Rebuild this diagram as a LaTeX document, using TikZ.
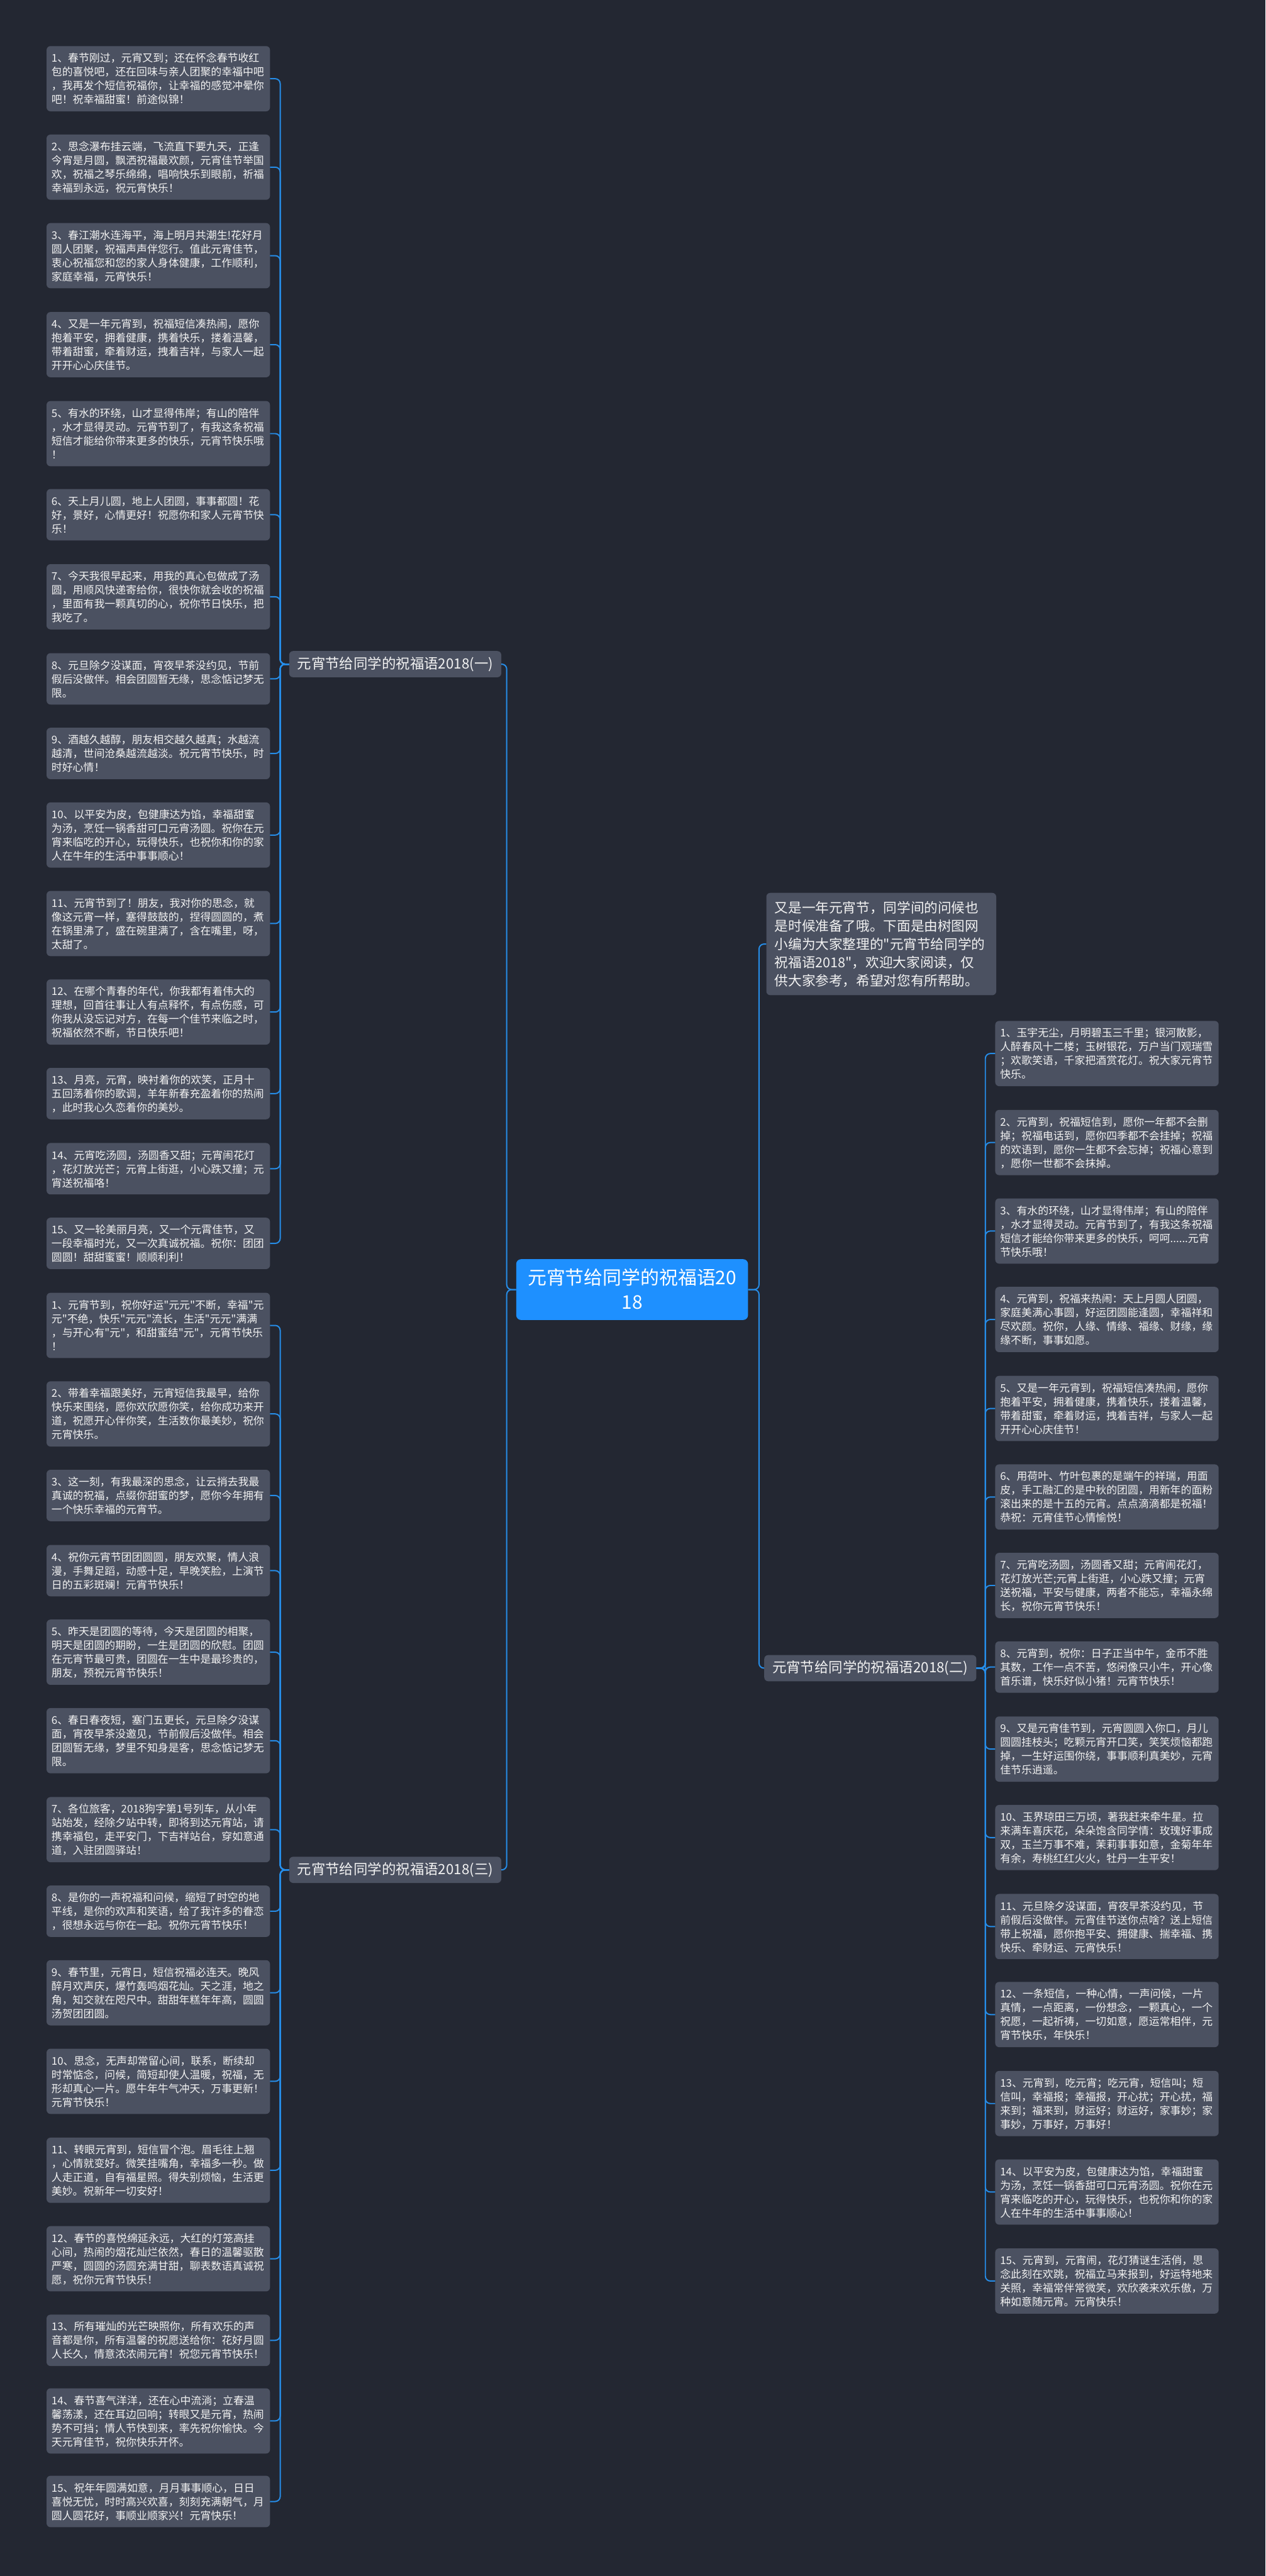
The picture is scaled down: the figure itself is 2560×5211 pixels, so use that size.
\documentclass[tikz,border=0pt]{standalone}
\usepackage{fontspec}
\newfontfamily\cjkfont{Noto Sans CJK SC}
\usepackage{tikz}
\definecolor{bgc}{RGB}{35,39,50}
\definecolor{boxc}{RGB}{75,81,97}
\definecolor{linkc}{RGB}{38,141,232}
\definecolor{rootc}{RGB}{30,144,255}
\definecolor{txtc}{RGB}{242,242,242}
\newcommand{\lnst}{\rule[-5.5pt]{0pt}{28pt}}
\newcommand{\inst}{\rule[-7.8pt]{0pt}{37pt}}
\newcommand{\rtst}{\rule[-10pt]{0pt}{50pt}}

\begin{document}
\begin{tikzpicture}[x=1pt,y=-1pt,
    leaf/.style={fill=boxc, rounded corners=8pt, text=txtc, text width=432pt, align=left,
      inner xsep=10pt, inner ysep=10pt, anchor=north west, font=\cjkfont\fontsize{21.5}{28}\selectfont},
    branch/.style={fill=boxc, rounded corners=8pt, text=txtc, minimum width=429pt, minimum height=53pt,
      inner sep=0pt, font=\cjkfont\fontsize{28.5}{34}\selectfont},
    link/.style={draw=linkc, line width=2.5pt, rounded corners=10pt}]
  \fill[bgc] (0,0) rectangle (2560,5211);
  \useasboundingbox (0,0) rectangle (2560,5211);

  \node[fill=rootc, rounded corners=10pt, text=white, text width=429pt, align=center, inner xsep=20pt,
    inner ysep=11.5pt, anchor=north west, font=\cjkfont\fontsize{38}{50}\selectfont] (root) at (1044,2547)
    {\rtst 元宵节给同学的祝福语20\\18\rtst};
  \node[leaf, text width=431pt, inner xsep=17pt, inner ysep=11pt, font=\cjkfont\fontsize{27.5}{37}\selectfont] (intro) at (1550,1806)
    {\inst 又是一年元宵节，同学间的问候也\\是时候准备了哦。下面是由树图网\\小编为大家整理的"元宵节给同学的\\祝福语2018"，欢迎大家阅读，仅\\供大家参考，希望对您有所帮助。\inst};
  \node[branch] (b1) at (799.5,1343.5) {元宵节给同学的祝福语2018(一)};
  \node[branch] (b2) at (1760.5,3374.5) {元宵节给同学的祝福语2018(二)};
  \node[branch] (b3) at (799.5,3782.5) {元宵节给同学的祝福语2018(三)};

  \draw[link] (root.west) -- ++(-19,0) |- (b1.east);
  \draw[link] (root.west) -- ++(-19,0) |- (b3.east);
  \draw[link] (root.east) -- ++(22,0) |- (intro.west);
  \draw[link] (root.east) -- ++(22,0) |- (b2.west);

  \foreach \i/\y/\txt in {
    1/93/{1、春节刚过，元宵又到；还在怀念春节收红\\包的喜悦吧，还在回味与亲人团聚的幸福中吧\\，我再发个短信祝福你，让幸福的感觉冲晕你\\吧！祝幸福甜蜜！前途似锦！},
    2/272/{2、思念瀑布挂云端，飞流直下要九天，正逢\\今宵是月圆，飘洒祝福最欢颜，元宵佳节举国\\欢，祝福之琴乐绵绵，唱响快乐到眼前，祈福\\幸福到永远，祝元宵快乐！},
    3/451/{3、春江潮水连海平，海上明月共潮生!花好月\\圆人团聚，祝福声声伴您行。值此元宵佳节，\\衷心祝福您和您的家人身体健康，工作顺利，\\家庭幸福，元宵快乐！},
    4/631/{4、又是一年元宵到，祝福短信凑热闹，愿你\\抱着平安，拥着健康，携着快乐，搂着温馨，\\带着甜蜜，牵着财运，拽着吉祥，与家人一起\\开开心心庆佳节。},
    5/811/{5、有水的环绕，山才显得伟岸；有山的陪伴\\，水才显得灵动。元宵节到了，有我这条祝福\\短信才能给你带来更多的快乐，元宵节快乐哦\\！},
    6/989/{6、天上月儿圆，地上人团圆，事事都圆！花\\好，景好，心情更好！祝愿你和家人元宵节快\\乐！},
    7/1141/{7、今天我很早起来，用我的真心包做成了汤\\圆，用顺风快递寄给你，很快你就会收的祝福\\，里面有我一颗真切的心，祝你节日快乐，把\\我吃了。},
    8/1321/{8、元旦除夕没谋面，宵夜早茶没约见，节前\\假后没做伴。相会团圆暂无缘，思念惦记梦无\\限。},
    9/1472/{9、酒越久越醇，朋友相交越久越真；水越流\\越清，世间沧桑越流越淡。祝元宵节快乐，时\\时好心情！},
    10/1623/{10、以平安为皮，包健康达为馅，幸福甜蜜\\为汤，烹饪一锅香甜可口元宵汤圆。祝你在元\\宵来临吃的开心，玩得快乐，也祝你和你的家\\人在牛年的生活中事事顺心！},
    11/1802/{11、元宵节到了！朋友，我对你的思念，就\\像这元宵一样，塞得鼓鼓的，捏得圆圆的，煮\\在锅里沸了，盛在碗里满了，含在嘴里，呀，\\太甜了。},
    12/1981/{12、在哪个青春的年代，你我都有着伟大的\\理想，回首往事让人有点释怀，有点伤感，可\\你我从没忘记对方，在每一个佳节来临之时，\\祝福依然不断，节日快乐吧！},
    13/2160/{13、月亮，元宵，映衬着你的欢笑，正月十\\五回荡着你的歌调，羊年新春充盈着你的热闹\\，此时我心久恋着你的美妙。},
    14/2312/{14、元宵吃汤圆，汤圆香又甜；元宵闹花灯\\，花灯放光芒；元宵上街逛，小心跌又撞；元\\宵送祝福咯！},
    15/2463/{15、又一轮美丽月亮，又一个元霄佳节，又\\一段幸福时光，又一次真诚祝福。祝你：团团\\圆圆！甜甜蜜蜜！顺顺利利！}} {
    \node[leaf] (a\i) at (94,\y) {\lnst\txt\lnst};
    \draw[link] (b1.west) -- ++(-18,0) |- (a\i.east);
  }

  \foreach \i/\y/\txt in {
    1/2615/{1、元宵节到，祝你好运"元元"不断，幸福"元\\元"不绝，快乐"元元"流长，生活"元元"满满\\，与开心有"元"，和甜蜜结"元"，元宵节快乐\\！},
    2/2794/{2、带着幸福跟美好，元宵短信我最早，给你\\快乐来围绕，愿你欢欣愿你笑，给你成功来开\\道，祝愿开心伴你笑，生活数你最美妙，祝你\\元宵快乐。},
    3/2973/{3、这一刻，有我最深的思念，让云捎去我最\\真诚的祝福，点缀你甜蜜的梦，愿你今年拥有\\一个快乐幸福的元宵节。},
    4/3125/{4、祝你元宵节团团圆圆，朋友欢聚，情人浪\\漫，手舞足蹈，动感十足，早晚笑脸，上演节\\日的五彩斑斓！元宵节快乐！},
    5/3276/{5、昨天是团圆的等待，今天是团圆的相聚，\\明天是团圆的期盼，一生是团圆的欣慰。团圆\\在元宵节最可贵，团圆在一生中是最珍贵的，\\朋友，预祝元宵节快乐！},
    6/3455/{6、春日春夜短，塞门五更长，元旦除夕没谋\\面，宵夜早茶没邀见，节前假后没做伴。相会\\团圆暂无缘，梦里不知身是客，思念惦记梦无\\限。},
    7/3635/{7、各位旅客，2018狗字第1号列车，从小年\\站始发，经除夕站中转，即将到达元宵站，请\\携幸福包，走平安门，下吉祥站台，穿如意通\\道，入驻团圆驿站！},
    8/3814/{8、是你的一声祝福和问候，缩短了时空的地\\平线，是你的欢声和笑语，给了我许多的眷恋\\，很想永远与你在一起。祝你元宵节快乐！},
    9/3965/{9、春节里，元宵日，短信祝福必连天。晚风\\醉月欢声庆，爆竹轰鸣烟花灿。天之涯，地之\\角，知交就在咫尺中。甜甜年糕年年高，圆圆\\汤贺团团圆。},
    10/4144/{10、思念，无声却常留心间，联系，断续却\\时常惦念，问候，简短却使人温暖，祝福，无\\形却真心一片。愿牛年牛气冲天，万事更新！\\元宵节快乐！},
    11/4324/{11、转眼元宵到，短信冒个泡。眉毛往上翘\\，心情就变好。微笑挂嘴角，幸福多一秒。做\\人走正道，自有福星照。得失别烦恼，生活更\\美妙。祝新年一切安好！},
    12/4503/{12、春节的喜悦绵延永远，大红的灯笼高挂\\心间，热闹的烟花灿烂依然，春日的温馨驱散\\严寒，圆圆的汤圆充满甘甜，聊表数语真诚祝\\愿，祝你元宵节快乐！},
    13/4682/{13、所有璀灿的光芒映照你，所有欢乐的声\\音都是你，所有温馨的祝愿送给你：花好月圆\\人长久，情意浓浓闹元宵！祝您元宵节快乐！},
    14/4831/{14、春节喜气洋洋，还在心中流淌；立春温\\馨荡漾，还在耳边回响；转眼又是元宵，热闹\\势不可挡；情人节快到来，率先祝你愉快。今\\天元宵佳节，祝你快乐开怀。},
    15/5008/{15、祝年年圆满如意，月月事事顺心，日日\\喜悦无忧，时时高兴欢喜，刻刻充满朝气，月\\圆人圆花好，事顺业顺家兴！元宵快乐！}} {
    \node[leaf] (c\i) at (94,\y) {\lnst\txt\lnst};
    \draw[link] (b3.west) -- ++(-18,0) |- (c\i.east);
  }

  \foreach \i/\y/\txt in {
    1/2065/{1、玉宇无尘，月明碧玉三千里；银河散影，\\人醉春风十二楼；玉树银花，万户当门观瑞雪\\；欢歌笑语，千家把酒赏花灯。祝大家元宵节\\快乐。},
    2/2245/{2、元宵到，祝福短信到，愿你一年都不会删\\掉；祝福电话到，愿你四季都不会挂掉；祝福\\的欢语到，愿你一生都不会忘掉；祝福心意到\\，愿你一世都不会抹掉。},
    3/2424/{3、有水的环绕，山才显得伟岸；有山的陪伴\\，水才显得灵动。元宵节到了，有我这条祝福\\短信才能给你带来更多的快乐，呵呵......元宵\\节快乐哦！},
    4/2603/{4、元宵到，祝福来热闹：天上月圆人团圆，\\家庭美满心事圆，好运团圆能逢圆，幸福祥和\\尽欢颜。祝你，人缘、情缘、福缘、财缘，缘\\缘不断，事事如愿。},
    5/2783/{5、又是一年元宵到，祝福短信凑热闹，愿你\\抱着平安，拥着健康，携着快乐，搂着温馨，\\带着甜蜜，牵着财运，拽着吉祥，与家人一起\\开开心心庆佳节！},
    6/2962/{6、用荷叶、竹叶包裹的是端午的祥瑞，用面\\皮，手工融汇的是中秋的团圆，用新年的面粉\\滚出来的是十五的元宵。点点滴滴都是祝福！\\恭祝：元宵佳节心情愉悦！},
    7/3141/{7、元宵吃汤圆，汤圆香又甜；元宵闹花灯，\\花灯放光芒;元宵上街逛，小心跌又撞；元宵\\送祝福，平安与健康，两者不能忘，幸福永绵\\长，祝你元宵节快乐！},
    8/3320/{8、元宵到，祝你：日子正当中午，金币不胜\\其数，工作一点不苦，悠闲像只小牛，开心像\\首乐谱，快乐好似小猪！元宵节快乐！},
    9/3472/{9、又是元宵佳节到，元宵圆圆入你口，月儿\\圆圆挂枝头；吃颗元宵开口笑，笑笑烦恼都跑\\掉，一生好运围你绕，事事顺利真美妙，元宵\\佳节乐逍遥。},
    10/3651/{10、玉界琼田三万顷，著我赶来牵牛星。拉\\来满车喜庆花，朵朵饱含同学情：玫瑰好事成\\双，玉兰万事不难，茉莉事事如意，金菊年年\\有余，寿桃红红火火，牡丹一生平安！},
    11/3831/{11、元旦除夕没谋面，宵夜早茶没约见，节\\前假后没做伴。元宵佳节送你点啥？送上短信\\带上祝福，愿你抱平安、拥健康、揣幸福、携\\快乐、牵财运、元宵快乐！},
    12/4009/{12、一条短信，一种心情，一声问候，一片\\真情，一点距离，一份想念，一颗真心，一个\\祝愿，一起祈祷，一切如意，愿运常相伴，元\\宵节快乐，年快乐！},
    13/4189/{13、元宵到，吃元宵；吃元宵，短信叫；短\\信叫，幸福报；幸福报，开心扰；开心扰，福\\来到；福来到，财运好；财运好，家事妙；家\\事妙，万事好，万事好！},
    14/4368/{14、以平安为皮，包健康达为馅，幸福甜蜜\\为汤，烹饪一锅香甜可口元宵汤圆。祝你在元\\宵来临吃的开心，玩得快乐，也祝你和你的家\\人在牛年的生活中事事顺心！},
    15/4548/{15、元宵到，元宵闹，花灯猜谜生活俏，思\\念此刻在欢跳，祝福立马来报到，好运特地来\\关照，幸福常伴常微笑，欢欣袭来欢乐傲，万\\种如意随元宵。元宵快乐！}} {
    \node[leaf] (r\i) at (2013,\y) {\lnst\txt\lnst};
    \draw[link] (b2.east) -- ++(18,0) |- (r\i.west);
  }
\end{tikzpicture}
\end{document}
